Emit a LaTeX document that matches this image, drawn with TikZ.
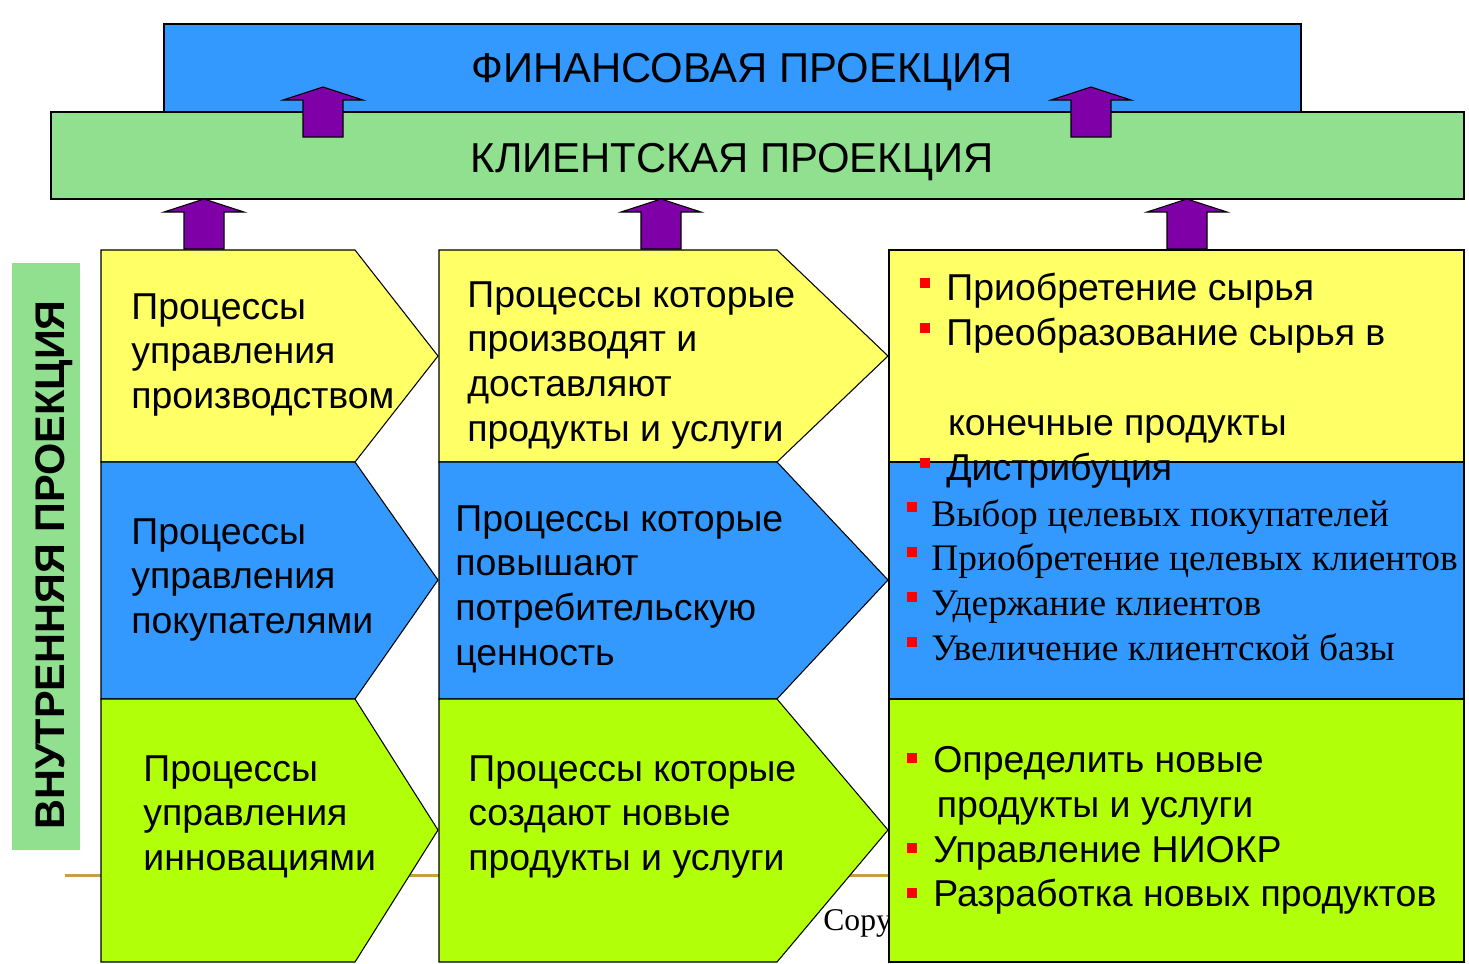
\documentclass[tikz,border=0pt]{standalone}
\usepackage{fontspec}
\setmainfont{Liberation Sans}
\newfontfamily\timesrm{Liberation Serif}
\definecolor{finblue}{RGB}{51,153,255}
\definecolor{clientgreen}{RGB}{144,224,144}
\definecolor{procyellow}{RGB}{255,255,102}
\definecolor{proclime}{RGB}{178,255,10}
\definecolor{arrpurple}{RGB}{128,0,168}
\definecolor{goldline}{RGB}{196,160,64}
\tikzset{
  outl/.style={draw=black, line width=0.6pt},
  arr/.style={draw=black, line width=0.6pt, fill=arrpurple},
  proctext/.style={anchor=north west, align=left, inner sep=0pt,
    font=\fontsize{21.3}{25.5}\selectfont},
  listtext/.style={anchor=north west, align=left, inner sep=0pt,
    font=\timesrm\fontsize{21.3}{25.5}\selectfont},
  bulletsq/.style={fill=red, inner sep=0pt, minimum size=0.2cm}
}
\newcommand{\purplearrow}[2]{%
  \draw[arr] (#1-20,#2) -- (#1-20,#2-37) -- (#1-40,#2-37) -- (#1,#2-50)
    -- (#1+40,#2-37) -- (#1+20,#2-37) -- (#1+20,#2) -- cycle;}
\begin{document}
\begin{tikzpicture}[x=0.02cm,y=-0.02cm]
\useasboundingbox (0,0) rectangle (1469,963);

% slide footer, mostly hidden
\draw[goldline, line width=1.7pt] (65,875) -- (1464,875);
\node[anchor=base west, inner sep=0pt, font=\timesrm\fontsize{18}{20}\selectfont] (copy) at (823,930) {Copyright};

% first column
\draw[outl, fill=procyellow] (101,250) -- (355,250) -- (438,356) -- (355,462) -- (101,462) -- cycle;
\draw[outl, fill=finblue] (101,462) -- (355,462) -- (438,580) -- (355,699) -- (101,699) -- cycle;
\draw[outl, fill=proclime] (101,699) -- (355,699) -- (438,830) -- (355,962) -- (101,962) -- cycle;
% second column
\draw[outl, fill=procyellow] (439,250) -- (777,250) -- (888,356) -- (777,462) -- (439,462) -- cycle;
\draw[outl, fill=finblue] (439,462) -- (777,462) -- (888,580) -- (777,699) -- (439,699) -- cycle;
\draw[outl, fill=proclime] (439,699) -- (777,699) -- (888,830) -- (777,962) -- (439,962) -- cycle;
% third column
\draw[outl, fill=procyellow] (889,250) rectangle (1464,462);
\draw[outl, fill=finblue] (889,462) rectangle (1464,699);
\draw[outl, fill=proclime] (889,699) rectangle (1464,962);

% side band
\fill[clientgreen] (12,263) rectangle (80,850);
\node[rotate=90, anchor=base, inner sep=0pt, font=\bfseries\fontsize{23.6}{27}\selectfont] (inner) at (64,565) {ВНУТРЕННЯЯ ПРОЕКЦИЯ};

% top bands
\draw[outl, fill=finblue] (164,24) rectangle (1301,112);
\draw[outl, fill=clientgreen] (51,112) rectangle (1464,199);
\node[anchor=base, inner sep=0pt, font=\fontsize{23.8}{28}\selectfont] (fin) at (742,83) {ФИНАНСОВАЯ ПРОЕКЦИЯ};
\node[anchor=base, inner sep=0pt, font=\fontsize{23.8}{28}\selectfont] (client) at (732,172) {КЛИЕНТСКАЯ ПРОЕКЦИЯ};

% arrows
\purplearrow{323}{137}
\purplearrow{1091}{137}
\purplearrow{204}{249}
\purplearrow{661}{249}
\purplearrow{1187}{249}

% process texts
\node[proctext] (prod) at (131,293) {Процессы\\управления\\производством};
\node[proctext] (cust) at (131,518) {Процессы\\управления\\покупателями};
\node[proctext] (innov) at (143,755) {Процессы\\управления\\инновациями};
\node[proctext] (deliver) at (467,281) {Процессы которые\\производят и\\доставляют\\продукты и услуги};
\node[proctext] (value) at (455,505) {Процессы которые\\повышают\\потребительскую\\ценность};
\node[proctext] (create) at (468,755) {Процессы которые\\создают новые\\продукты и услуги};

% lists
\node[proctext] (opslist) at (946,273) {Приобретение сырья\\Преобразование сырья в\\[25.5pt]\hspace{1pt}конечные продукты\\Дистрибуция};
\node[listtext] (custlist) at (931,499) {Выбор целевых покупателей\\Приобретение целевых клиентов\\Удержание клиентов\\Увеличение клиентской базы};
\node[proctext] (innlist) at (933,746) {Определить новые\\\hspace{2pt}продукты и услуги\\Управление НИОКР\\Разработка новых продуктов};
\foreach \yy [count=\i] in {283,328,463}
  \node[bulletsq] (ob\i) at (925,\yy) {};
\foreach \yy [count=\i] in {507,552,597,642}
  \node[bulletsq] (cb\i) at (912,\yy) {};
\foreach \yy [count=\i] in {758,848,893}
  \node[bulletsq] (ib\i) at (912,\yy) {};
\end{tikzpicture}
\end{document}
